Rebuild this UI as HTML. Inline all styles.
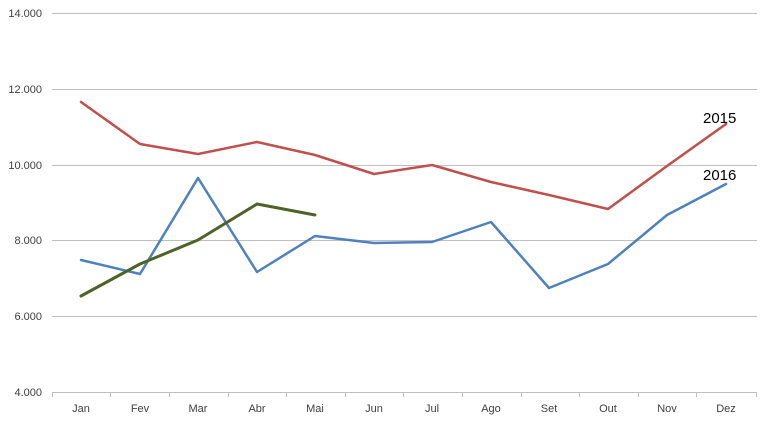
<!DOCTYPE html>
<html><head><meta charset="utf-8"><style>
html,body{margin:0;padding:0;background:#fff;}
svg{display:block;font-family:"Liberation Sans",sans-serif;}
</style></head><body>
<svg width="768" height="422" viewBox="0 0 768 422">
<g stroke="#bfbfbf" stroke-width="1">
<line x1="52" y1="13.5" x2="757" y2="13.5"/>
<line x1="52" y1="89.5" x2="757" y2="89.5"/>
<line x1="52" y1="165.5" x2="757" y2="165.5"/>
<line x1="52" y1="240.5" x2="757" y2="240.5"/>
<line x1="52" y1="316.5" x2="757" y2="316.5"/>
<line x1="52" y1="392.5" x2="757" y2="392.5"/>
<line x1="52.5" y1="392" x2="52.5" y2="397"/>
<line x1="110.5" y1="392" x2="110.5" y2="397"/>
<line x1="169.5" y1="392" x2="169.5" y2="397"/>
<line x1="228.5" y1="392" x2="228.5" y2="397"/>
<line x1="286.5" y1="392" x2="286.5" y2="397"/>
<line x1="345.5" y1="392" x2="345.5" y2="397"/>
<line x1="403.5" y1="392" x2="403.5" y2="397"/>
<line x1="462.5" y1="392" x2="462.5" y2="397"/>
<line x1="521.5" y1="392" x2="521.5" y2="397"/>
<line x1="579.5" y1="392" x2="579.5" y2="397"/>
<line x1="638.5" y1="392" x2="638.5" y2="397"/>
<line x1="696.5" y1="392" x2="696.5" y2="397"/>
<line x1="756.5" y1="392" x2="756.5" y2="397"/>
</g>
<g font-size="11" fill="#404040" text-anchor="end">
<text x="42" y="17">14.000</text>
<text x="42" y="93">12.000</text>
<text x="42" y="169">10.000</text>
<text x="42" y="244">8.000</text>
<text x="42" y="320">6.000</text>
<text x="42" y="396">4.000</text>
</g>
<g font-size="11" fill="#404040" text-anchor="middle">
<text x="81" y="412">Jan</text><text x="140" y="412">Fev</text><text x="198" y="412">Mar</text>
<text x="257" y="412">Abr</text><text x="315" y="412">Mai</text><text x="374" y="412">Jun</text>
<text x="432" y="412">Jul</text><text x="491" y="412">Ago</text><text x="549" y="412">Set</text>
<text x="608" y="412">Out</text><text x="667" y="412">Nov</text><text x="726" y="412">Dez</text>
</g>
<g fill="none" stroke-width="2.5" stroke-linejoin="round" stroke-linecap="round">
<polyline stroke="#c0504d" points="81,102 140,144 198,154 257,142 315,155 374,174 432,165 491,182 549,195 608,209 667,166 726,124"/>
<polyline stroke="#4f81bd" points="81,260 140,274 198,178 257,272 315,236 374,243 432,242 491,222 549,288 608,264 667,215 726,184"/>
<polyline stroke="#4f6228" stroke-width="3" points="81,296 140,264 198,240 257,204 315,215"/>
</g>
<g font-size="15" fill="#000">
<text x="703" y="123">2015</text>
<text x="703" y="180">2016</text>
</g>
</svg>
</body></html>
